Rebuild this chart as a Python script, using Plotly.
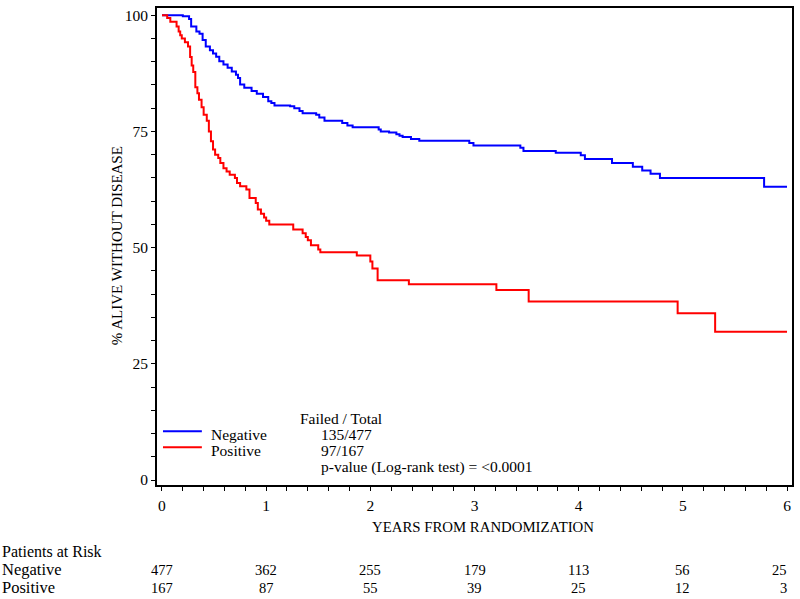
import plotly.graph_objects as go

# Kaplan-Meier step data (years, % alive without disease)
neg_time = [0, 0.20, 0.26, 0.28, 0.33, 0.36, 0.39, 0.42, 0.46, 0.49, 0.52, 0.55, 0.59, 0.63,
            0.67, 0.71, 0.73, 0.75, 0.79, 0.86, 0.91, 0.97, 1.02, 1.05, 1.08, 1.23, 1.27, 1.32,
            1.35, 1.48, 1.51, 1.56, 1.73, 1.78, 1.83, 2.08, 2.10, 2.18, 2.25, 2.28, 2.31, 2.39,
            2.47, 2.95, 2.99, 3.44, 3.47, 3.78, 4.02, 4.06, 4.32, 4.52, 4.61, 4.69, 4.78, 5.78, 6.0]
neg_surv = [100, 99.8, 99.2, 97.6, 96.5, 96.0, 94.7, 93.3, 92.5, 91.8, 91.1, 90.1, 89.4, 88.7,
            87.9, 87.2, 86.5, 85.1, 84.4, 83.7, 83.1, 82.4, 81.5, 81.1, 80.6, 80.4, 80.0, 79.4,
            78.9, 78.6, 78.0, 77.3, 76.8, 76.3, 75.9, 75.4, 75.0, 74.8, 74.4, 74.1, 73.8, 73.4,
            73.0, 72.5, 72.0, 71.5, 70.8, 70.4, 69.9, 69.1, 68.2, 67.4, 66.6, 65.9, 65.0, 63.1, 63.1]

pos_time = [0, 0.05, 0.08, 0.14, 0.16, 0.175, 0.19, 0.22, 0.25, 0.27, 0.285, 0.30, 0.32, 0.34,
            0.355, 0.38, 0.40, 0.43, 0.45, 0.47, 0.49, 0.51, 0.54, 0.56, 0.59, 0.62, 0.65, 0.70,
            0.72, 0.75, 0.81, 0.84, 0.90, 0.92, 0.95, 0.98, 1.00, 1.03, 1.26, 1.35, 1.38, 1.40,
            1.43, 1.50, 1.52, 1.87, 2.00, 2.02, 2.07, 2.37, 3.21, 3.52, 4.95, 5.31, 6.0]
pos_surv = [100, 99.4, 98.6, 97.6, 96.5, 95.7, 95.0, 94.2, 93.3, 91.0, 89.2, 87.8, 84.5, 83.2,
            81.8, 80.2, 78.6, 77.3, 75.0, 72.9, 71.1, 70.0, 69.3, 68.2, 67.1, 66.4, 65.7, 65.0,
            63.9, 63.2, 62.5, 60.7, 59.6, 58.2, 57.3, 56.5, 55.8, 55.0, 53.9, 53.1, 52.3, 51.6,
            50.5, 49.6, 49.0, 48.3, 47.0, 45.5, 43.0, 42.1, 40.9, 38.4, 35.9, 31.9, 31.9]

groups = ["Negative", "Positive"]
failed_total = ["135/477", "97/167"]
p_value_text = "p-value (Log-rank test) = <0.0001"
risk_times = [0, 1, 2, 3, 4, 5, 6]
risk_negative = [477, 362, 255, 179, 113, 56, 25]
risk_positive = [167, 87, 55, 39, 25, 12, 3]
x_ticks = [0, 1, 2, 3, 4, 5, 6]
y_ticks = [0, 25, 50, 75, 100]

FONT = "Liberation Serif"
FS = 15.5
colors = ["#0000FF", "#FF0000"]

# pixel helpers (plot area: x 157..794, y 6..485 in an 800x599 figure)
L, R, T, B = 157, 6, 6, 114
W, H = 800 - L - R, 599 - T - B
def px(xp):
    return (xp - L) / W
def py(yp):
    return (599 - B - yp) / H

fig = go.Figure()
fig.add_trace(go.Scatter(x=neg_time, y=neg_surv, mode="lines", line=dict(color=colors[0], width=2, shape="hv"),
                         name=groups[0], showlegend=False, hoverinfo="skip"))
fig.add_trace(go.Scatter(x=pos_time, y=pos_surv, mode="lines", line=dict(color=colors[1], width=2, shape="hv"),
                         name=groups[1], showlegend=False, hoverinfo="skip"))

ann = []
# axis titles
ann.append(dict(text="YEARS FROM RANDOMIZATION", xref="paper", yref="paper", x=px(484), y=py(527),
                xanchor="center", yanchor="middle", showarrow=False, font=dict(size=14.8)))
ann.append(dict(text="% ALIVE WITHOUT DISEASE", xref="paper", yref="paper", x=px(117), y=py(245),
                xanchor="center", yanchor="middle", textangle=-90, showarrow=False, font=dict(size=15)))
# legend block
ann.append(dict(text="Failed / Total", xref="paper", yref="paper", x=px(298), y=py(418),
                xanchor="left", yanchor="middle", showarrow=False))
leg_y = [434, 450]
for g, ft, yy, c in zip(groups, failed_total, leg_y, colors):
    ann.append(dict(text=g, xref="paper", yref="paper", x=px(209), y=py(yy),
                    xanchor="left", yanchor="middle", showarrow=False))
    ann.append(dict(text=ft, xref="paper", yref="paper", x=px(320), y=py(yy),
                    xanchor="left", yanchor="middle", showarrow=False))
ann.append(dict(text=p_value_text, xref="paper", yref="paper", x=px(320), y=py(467),
                xanchor="left", yanchor="middle", showarrow=False))
# at-risk table
ann.append(dict(text="Patients at Risk", xref="paper", yref="paper", x=px(0), y=py(552),
                xanchor="left", yanchor="middle", showarrow=False, font=dict(size=16)))
for g, row, yy in zip(groups, [risk_negative, risk_positive], [570, 588]):
    ann.append(dict(text=g, xref="paper", yref="paper", x=px(0), y=py(yy),
                    xanchor="left", yanchor="middle", showarrow=False, font=dict(size=16.5)))
    for t, n in zip(risk_times, row):
        last = t == risk_times[-1]
        ann.append(dict(text=str(n), xref="x", yref="paper", x=(t + 0.02) if last else t, y=py(yy),
                        xanchor="right" if last else "center", yanchor="middle", showarrow=False,
                        font=dict(size=14.5)))

shapes = []
for yy, c in zip([431, 447], colors):
    shapes.append(dict(type="line", xref="paper", yref="paper", x0=px(163), x1=px(202), y0=py(yy), y1=py(yy),
                       line=dict(color=c, width=2)))

fig.update_layout(
    width=800, height=599,
    margin=dict(l=L, r=R, t=T, b=B),
    paper_bgcolor="white", plot_bgcolor="white",
    font=dict(family=FONT, size=FS, color="black"),
    annotations=ann, shapes=shapes,
    xaxis=dict(range=[-5 / 104.5, 6 + 5 / 104.5], tickvals=x_ticks, ticks="outside", ticklen=4,
               tickwidth=1, tickcolor="black", showgrid=False, zeroline=False, showline=True,
               linecolor="black", linewidth=2, mirror=True, ticklabelstandoff=1,
               minor=dict(dtick=0.2, ticks="outside", ticklen=4, tickcolor="black", tickwidth=1, showgrid=False)),
    yaxis=dict(range=[-5 / 4.667, 100 + 7.3 / 4.667], tickvals=y_ticks, ticks="outside", ticklen=4,
               tickwidth=1, tickcolor="black", showgrid=False, zeroline=False, showline=True,
               linecolor="black", linewidth=2, mirror=True,
               minor=dict(dtick=5, ticks="outside", ticklen=4, tickcolor="black", tickwidth=1, showgrid=False)),
)

fig.write_html("out.html", config={"displayModeBar": False},
               post_script="document.body.style.margin='0px';document.body.style.overflow='hidden';")
